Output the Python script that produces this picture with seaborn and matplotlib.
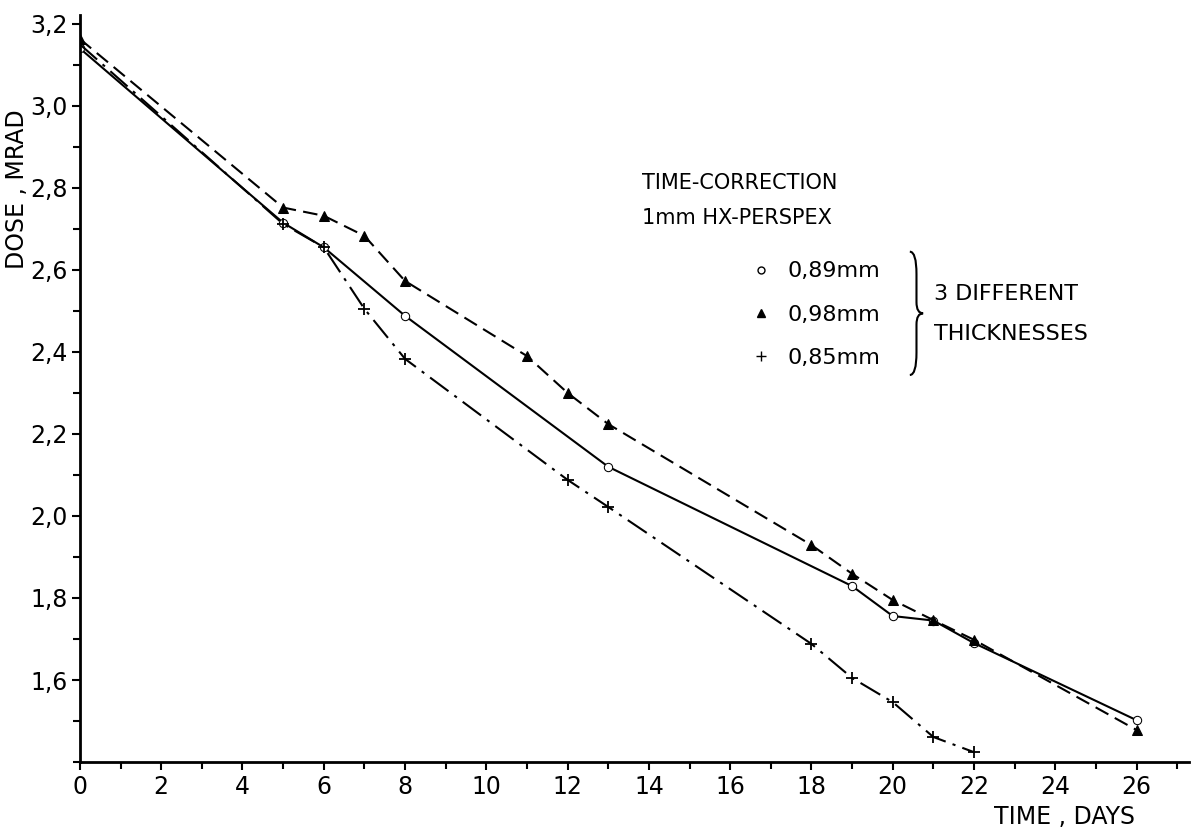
"""Time-correction curves for HX-Perspex dosimeters (3 thicknesses)."""

import matplotlib
matplotlib.use("Agg")
import matplotlib.pyplot as plt
from matplotlib.lines import Line2D
from matplotlib.patches import PathPatch
from matplotlib.path import Path
from matplotlib.ticker import MultipleLocator, FuncFormatter
import pandas as pd
import seaborn as sns


# 0,89 mm - open circles, solid line
days_089 = [0, 5, 6, 8, 13, 19, 20, 21, 22, 26]
dose_089 = [3.14, 2.715, 2.655, 2.488, 2.12, 1.829, 1.756, 1.745, 1.69, 1.502]

# 0,98 mm - filled triangles, dashed line
days_098 = [0, 5, 6, 7, 8, 11, 12, 13, 18, 19, 20, 21, 22, 26]
dose_098 = [3.163, 2.752, 2.732, 2.683, 2.573, 2.39, 2.30, 2.224,
            1.929, 1.859, 1.795, 1.746, 1.698, 1.478]

# 0,85 mm - plus signs, dash-dot line
days_085 = [0, 5, 6, 7, 8, 12, 13, 18, 19, 20, 21, 22]
dose_085 = [3.15, 2.712, 2.655, 2.505, 2.383, 2.088, 2.022,
            1.688, 1.605, 1.546, 1.461, 1.424]

legend_labels = ["0,89mm", "0,98mm", "0,85mm"]


def comma(value, _pos):
    return f"{value:.1f}".replace(".", ",")


def draw_brace(ax, x0, y_top, y_bot, depth):
    """Right-pointing curly brace in axes coordinates."""
    ym = (y_top + y_bot) / 2
    xm = x0 + depth / 2
    verts = [
        (x0, y_top), (xm, y_top), (xm, y_top - 0.03),
        (xm, ym + 0.015), (xm, ym), (x0 + depth, ym),
        (xm, ym), (xm, ym - 0.015),
        (xm, y_bot + 0.03), (xm, y_bot), (x0, y_bot),
    ]
    codes = [Path.MOVETO, Path.CURVE3, Path.CURVE3,
             Path.LINETO, Path.CURVE3, Path.CURVE3,
             Path.CURVE3, Path.CURVE3,
             Path.LINETO, Path.CURVE3, Path.CURVE3]
    patch = PathPatch(Path(verts, codes), transform=ax.transAxes,
                      facecolor="none", edgecolor="black", linewidth=1.5,
                      clip_on=False)
    ax.add_patch(patch)


def main():
    sns.set_theme(style="ticks")
    plt.rcParams["font.family"] = ["DejaVu Sans"]

    fig = plt.figure(figsize=(11.93, 8.33), dpi=100)
    ax = fig.add_axes([0.067, 0.0852, 0.93, 0.897])

    series = [
        (days_089, dose_089, "o", "-", dict(markersize=6, markerfacecolor="white")),
        (days_098, dose_098, "^", (0, (7, 3.5)), dict(markersize=7)),
        (days_085, dose_085, "+", (0, (11, 3.5, 1.5, 3.5)), dict(markersize=9, markeredgewidth=1.3)),
    ]
    for days, dose, marker, style, extra in series:
        df = pd.DataFrame({"day": days, "dose": dose})
        sns.lineplot(data=df, x="day", y="dose", ax=ax, color="black",
                     linewidth=1.5, linestyle=style, marker=marker,
                     markeredgecolor="black", **extra)

    ax.set_xlim(0, 27.3)
    ax.set_ylim(1.4, 3.222)
    ax.xaxis.set_major_locator(MultipleLocator(2))
    ax.xaxis.set_minor_locator(MultipleLocator(1))
    ax.yaxis.set_minor_locator(MultipleLocator(0.1))
    ax.set_yticks([1.6, 1.8, 2.0, 2.2, 2.4, 2.6, 2.8, 3.0, 3.2])
    ax.yaxis.set_major_formatter(FuncFormatter(comma))
    ax.tick_params(which="both", direction="out", color="black", width=1.5,
                   labelsize=17, labelcolor="black", pad=3)
    ax.tick_params(which="major", length=6)
    ax.tick_params(which="minor", length=5)
    for side in ("left", "bottom"):
        ax.spines[side].set_linewidth(2)
        ax.spines[side].set_color("black")
    sns.despine(ax=ax)

    ax.set_xlabel("TIME , DAYS", fontsize=17, color="black")
    ax.xaxis.set_label_coords(0.887, -0.058)
    ax.set_ylabel("DOSE , MRAD", fontsize=17, color="black")
    ax.yaxis.set_label_coords(-0.046, 0.766)

    ax.text(0.507, 0.775, "TIME-CORRECTION", transform=ax.transAxes,
            fontsize=15, va="center", color="black")
    ax.text(0.507, 0.728, "1mm HX-PERSPEX", transform=ax.transAxes,
            fontsize=15, va="center", color="black")

    handles = [
        Line2D([], [], marker="o", linestyle="none", color="black",
               markerfacecolor="white", markersize=5),
        Line2D([], [], marker="^", linestyle="none", color="black", markersize=6),
        Line2D([], [], marker="+", linestyle="none", color="black", markersize=7),
    ]
    ax.legend(handles, legend_labels, loc="upper left",
              bbox_to_anchor=(0.606, 0.67), frameon=False, fontsize=16,
              labelcolor="black", handlelength=0.8, handletextpad=0.8,
              labelspacing=1.05, borderaxespad=0, borderpad=0)

    draw_brace(ax, 0.748, 0.683, 0.518, 0.012)
    ax.text(0.770, 0.626, "3 DIFFERENT", transform=ax.transAxes,
            fontsize=16, va="center", color="black")
    ax.text(0.770, 0.573, "THICKNESSES", transform=ax.transAxes,
            fontsize=16, va="center", color="black")

    fig.savefig("out.png", dpi=100)


if __name__ == "__main__":
    main()
